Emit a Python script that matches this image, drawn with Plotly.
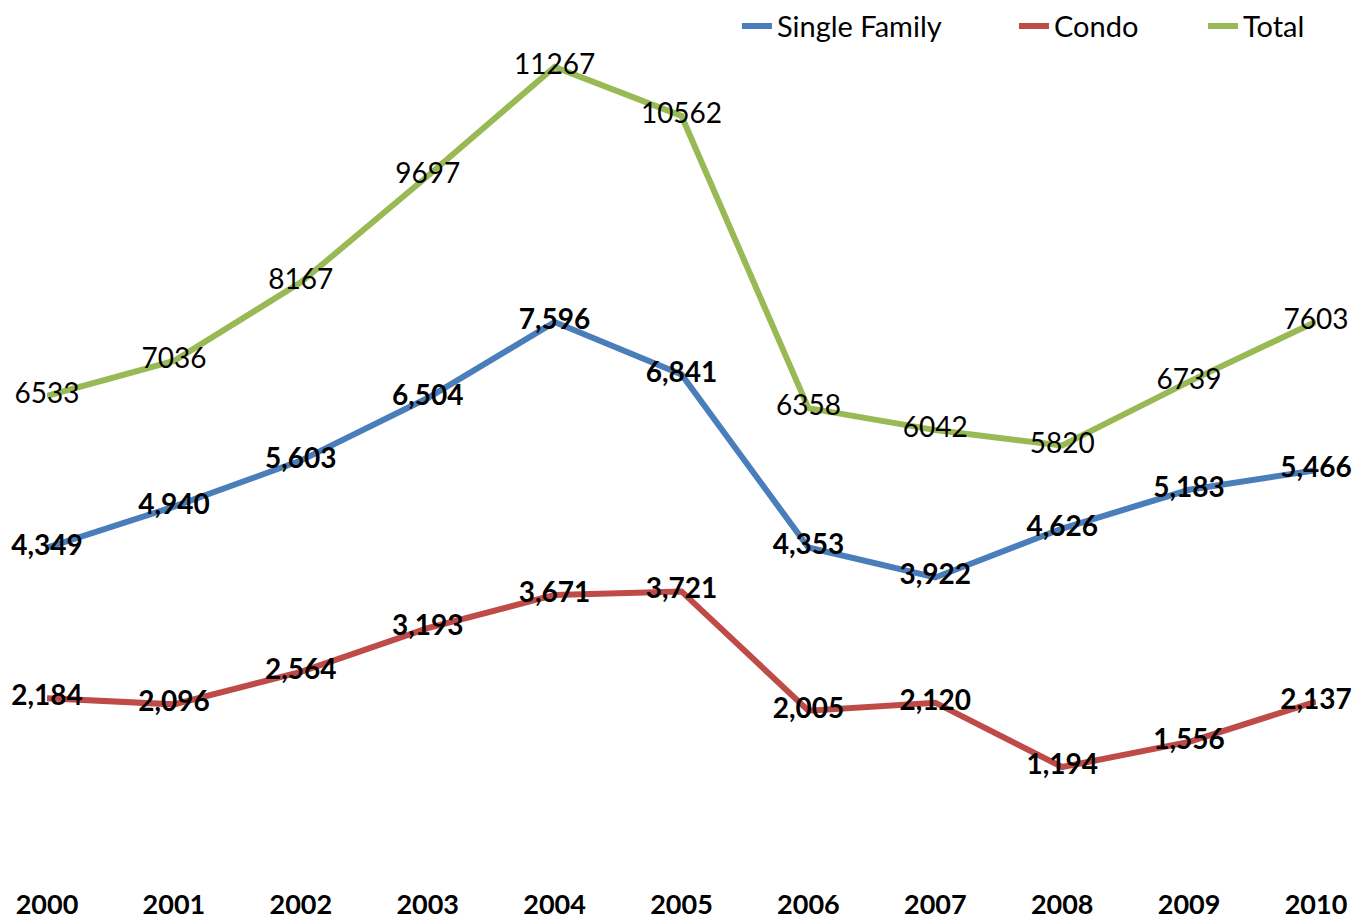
import plotly.graph_objects as go

years = [2000, 2001, 2002, 2003, 2004, 2005, 2006, 2007, 2008, 2009, 2010]
single_family = [4349, 4940, 5603, 6504, 7596, 6841, 4353, 3922, 4626, 5183, 5466]
condo = [2184, 2096, 2564, 3193, 3671, 3721, 2005, 2120, 1194, 1556, 2137]
total = [6533, 7036, 8167, 9697, 11267, 10562, 6358, 6042, 5820, 6739, 7603]

FONT = "Lato"
fig = go.Figure()

def add(name, vals, color, bold, lw):
    txt = [f"{v:,}" if bold else f"{v}" for v in vals]
    fig.add_trace(go.Scatter(
        x=years, y=vals, name=name, mode="lines+text",
        line=dict(color=color, width=6),
        text=txt, textposition="middle center",
        textfont=dict(family=FONT, size=28, color="black",
                      weight="bold" if bold else "normal"),
        cliponaxis=False, legendwidth=lw,
    ))

add("Single Family", single_family, "#4A7EBB", True, 232)
add("Condo", condo, "#BE4B48", True, 144)
add("Total", total, "#98B954", False, 100)

# page body has an 8px margin, so the figure is drawn 8px smaller / offset
fig.update_layout(
    width=1359, height=914,
    margin=dict(l=39, r=51, t=8, b=32, autoexpand=False),
    paper_bgcolor="white", plot_bgcolor="white",
    showlegend=True,
    legend=dict(orientation="h", x=0.5437, xanchor="left", y=0.9885, yanchor="middle",
                font=dict(family=FONT, size=29, color="black"),
                bgcolor="rgba(0,0,0,0)", itemwidth=30, tracegroupgap=0),
    xaxis=dict(range=[2000, 2010], tickmode="array", tickvals=years,
               ticktext=[str(y) for y in years], showgrid=False, zeroline=False,
               showline=False, ticks="", automargin=False, ticklabelstandoff=-4,
               tickfont=dict(family=FONT, size=27, color="black", weight="bold")),
    yaxis=dict(range=[-575, 12000], showgrid=False, zeroline=False, automargin=False,
               showline=False, showticklabels=False, ticks=""),
)

fig.write_html("out.html")
